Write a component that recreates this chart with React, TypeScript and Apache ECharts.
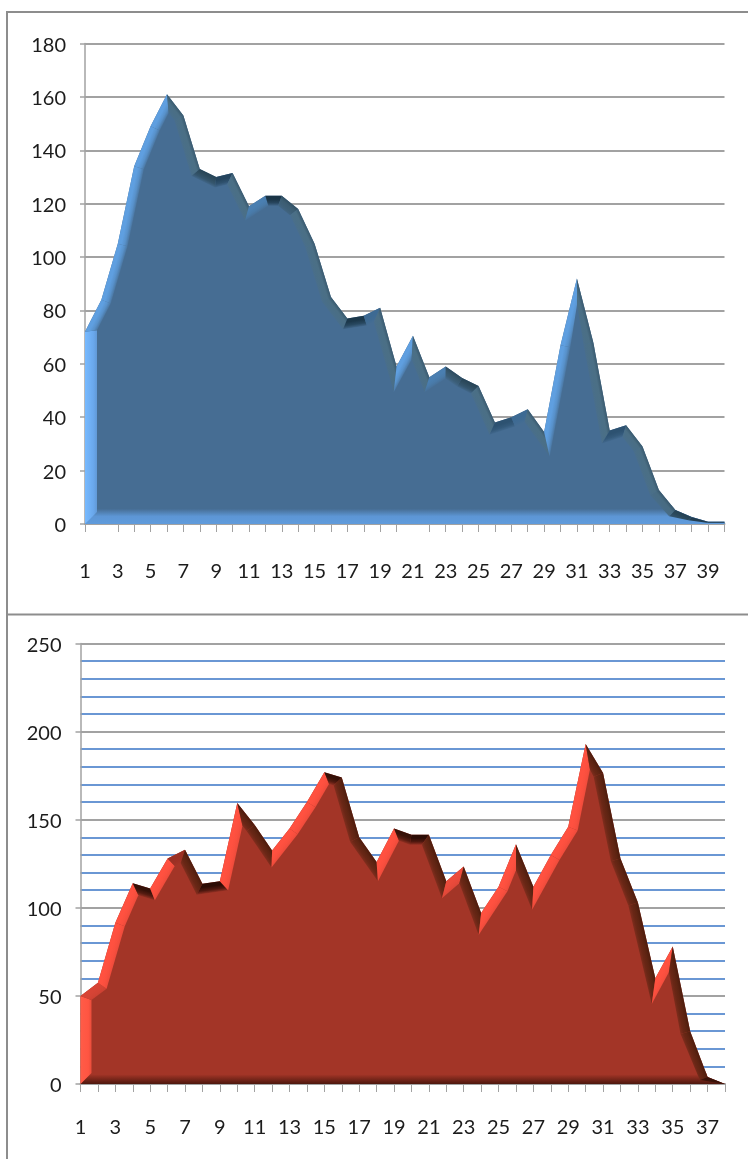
import React, { useEffect, useRef } from "react";
import * as echarts from "echarts";

const blueValues = [72, 84, 105, 134, 149, 161, 153, 133, 130, 131.5, 119, 123, 123, 118, 105, 85, 77, 78, 81, 59, 70.5, 55, 59, 54.7, 51.7, 38, 40, 43, 34.5, 67, 92, 68, 35, 37, 29, 12.7, 5.2, 2.6, 0.8, 0.8];
const redValues = [50, 57.5, 91.5, 114, 111, 128, 133, 113.6, 115, 159.5, 147, 132.5, 145, 160, 177, 174, 140, 126, 145, 141.5, 141.5, 115, 123.5, 97, 112, 136, 112, 130, 146, 193, 176.5, 128, 103, 60, 78, 30, 4, 0];
const blueCategories = blueValues.map((_, i) => String(i + 1));
const redCategories = redValues.map((_, i) => String(i + 1));
const blueMissingTicks = [1, 20];

type Pt = [number, number];
type Palette = {
  fill: string; flat: string; fall: string; rise: string; left: string; leftEdge: string; riseFade: number;
};
const bluePalette: Palette = { fill: "#466d93", flat: "#1a3446", fall: "#4b6f85", rise: "#5f9fe0", left: "#6aa8ec", leftEdge: "#78baff", riseFade: 0.8 };
const redPalette: Palette = { fill: "#a33527", flat: "#2c0c05", fall: "#5e2412", rise: "#ff5140", left: "#ff5542", leftEdge: "#ff5c48", riseFade: 0.2 };

function hex(c: string): number[] {
  return [1, 3, 5].map((i) => parseInt(c.slice(i, i + 2), 16));
}
function mix(a: string, b: string, t: number): string {
  const A = hex(a), B = hex(b), k = Math.max(0, Math.min(1, t));
  return "#" + A.map((v, i) => Math.round(v + (B[i] - v) * k).toString(16).padStart(2, "0")).join("");
}
function innerLine(pts: Pt[], d: number, leftW: number, base: number): Pt[] {
  const normal = (a: Pt, b: Pt): Pt => {
    const dx = b[0] - a[0], dy = b[1] - a[1], l = Math.hypot(dx, dy) || 1;
    return [-dy / l, dx / l];
  };
  return pts.map((p, i) => {
    let x: number, y: number;
    if (i === 0) {
      const n = normal(pts[0], pts[1]);
      const s = (pts[1][1] - pts[0][1]) / (pts[1][0] - pts[0][0]);
      x = p[0] + leftW;
      y = p[1] + n[1] * d + (x - (p[0] + n[0] * d)) * s;
    } else if (i === pts.length - 1) {
      const n = normal(pts[i - 1], p);
      x = p[0];
      y = p[1] + n[1] * d;
    } else {
      const a = normal(pts[i - 1], p), b = normal(p, pts[i + 1]);
      const k = 1 + a[0] * b[0] + a[1] * b[1];
      let ox = (d * (a[0] + b[0])) / (k || 1), oy = (d * (a[1] + b[1])) / (k || 1);
      const len = Math.hypot(ox, oy), lim = d * 2.6;
      if (len > lim) { ox *= lim / len; oy *= lim / len; }
      x = p[0] + ox; y = p[1] + oy;
    }
    const above = base - p[1];
    if (above < 36) y = Math.min(y, p[1] + above * 0.45);
    return [x, Math.min(y, base)] as Pt;
  });
}
function bandPolygon(pts: Pt[], base: number, h: number, leftW: number): Pt[] {
  const top = base - h;
  const out: Pt[] = [[pts[0][0], base], [pts[0][0] + leftW, top]];
  let last = false;
  for (let i = 1; i < pts.length; i++) {
    const p = pts[i], q = pts[i - 1];
    if (p[1] >= top && q[1] < top) {
      const t = (top - q[1]) / (p[1] - q[1]);
      out.push([q[0] + (p[0] - q[0]) * t, top]);
      last = true;
    }
    if (last || p[1] >= top) { out.push(p); last = true; }
  }
  out.push([pts[pts.length - 1][0], base]);
  return out;
}
const G = (x1: number, y1: number, x2: number, y2: number, stops: [number, string][]) =>
  new (echarts.graphic as any).LinearGradient(x1, y1, x2, y2, stops.map(([offset, color]) => ({ offset, color })), true);

function bevelSeries(values: number[], pal: Palette, axisIndex: number, d: number, leftW: number, bandH: number, bandFade: [number, number], bandBottom: string) {
  return {
    type: "custom",
    z: 4,
    xAxisIndex: axisIndex,
    yAxisIndex: axisIndex,
    encode: { x: 0, y: 1 },
    clip: false,
    silent: true,
    data: values.map((v, i) => [i, v]),
    renderItem: (params: any, api: any) => {
      const i = params.dataIndex;
      const pts: Pt[] = values.map((v, k) => api.coord([k, v]));
      const base: number = api.coord([0, 0])[1];
      const inner = innerLine(pts, d, leftW, base);
      const children: any[] = [];
      if (i === 0) {
        const top = base - bandH;
        children.push({
          type: "polygon",
          shape: { points: bandPolygon(pts, base, bandH, leftW) },
          style: { fill: G(0, top, 0, base, [[0, pal.fill], [bandFade[0], pal.fill], [bandFade[1], mix(pal.fill, bandBottom, 0.9)], [1, bandBottom]]) },
        });
        children.push({
          type: "polygon",
          shape: { points: [pts[0], inner[0], [inner[0][0], base - leftW], [pts[0][0], base]] },
          style: { fill: G(pts[0][0], 0, inner[0][0], 0, [[0, pal.leftEdge], [0.7, pal.left], [1, mix(pal.left, pal.fill, 0.25)]]) },
        });
      }
      if (i < values.length - 1) {
        const a = pts[i], b = pts[i + 1], ia = inner[i], ib = inner[i + 1];
        const dx = b[0] - a[0], dy = b[1] - a[1];
        const ang = (Math.atan2(-dy, dx) * 180) / Math.PI;
        const rising = ang > 0;
        const col = rising
          ? mix(pal.flat, pal.rise, (ang - 8) / 36)
          : mix(pal.flat, pal.fall, (-ang - 8) / 45);
        const l = Math.hypot(dx, dy) || 1;
        const nx = -dy / l, ny = dx / l;
        const mx = (a[0] + b[0]) / 2, my = (a[1] + b[1]) / 2;
        const fade = Math.abs(ang) < 35 ? 0.85 : rising ? pal.riseFade : 0.5;
        children.push({
          type: "polygon",
          shape: { points: [a, b, ib, ia] },
          style: {
            fill: G(mx, my, mx + nx * d, my + ny * d, [
              [0, rising ? col : mix(col, pal.flat, 0.35)],
              [0.35, col],
              [0.7, mix(col, pal.fill, fade * 0.35)],
              [1, mix(col, pal.fill, fade)],
            ]),
          },
        });
      }
      return { type: "group", children };
    },
  };
}

const GRAY = "#a2a2a2";
const FRAME = "#8d8d8d";
const FONT = "Lato";

function App() {
  const ref = useRef<HTMLDivElement>(null);
  useEffect(() => {
    document.body.style.margin = "0";
    document.body.style.overflow = "hidden";
    const chart = echarts.init(ref.current!, undefined, { renderer: "svg" });
    const xAxisCommon = {
      type: "category",
      boundaryGap: false,
      axisLine: { show: true, lineStyle: { color: GRAY, width: 2 } },
      axisLabel: { interval: 1, color: "#1c1c1c", fontFamily: FONT, fontSize: 20 },
    };
    const yAxisCommon = {
      type: "value",
      min: 0,
      axisLine: { show: true, lineStyle: { color: GRAY, width: 1.5 } },
      axisTick: { show: true, length: 5, lineStyle: { color: GRAY, width: 1.5 } },
      axisLabel: { color: "#1c1c1c", fontFamily: FONT, fontSize: 20, margin: 19 },
      splitLine: { show: true, lineStyle: { color: GRAY, width: 2 } },
    };
    chart.setOption({
      animation: false,
      backgroundColor: "#fff",
      grid: [
        { left: 85, top: 43.5, width: 639.5, height: 480.5 },
        { left: 80.5, top: 643.5, width: 644.5, height: 440.5 },
      ],
      xAxis: [
        {
          ...xAxisCommon,
          gridIndex: 0,
          data: blueCategories,
          axisTick: { show: true, length: 8, lineStyle: { color: GRAY }, interval: (idx: number) => !blueMissingTicks.includes(idx) },
          axisLabel: { ...xAxisCommon.axisLabel, margin: 36 },
        },
        {
          ...xAxisCommon,
          gridIndex: 1,
          data: redCategories,
          axisTick: { show: true, length: 8, lineStyle: { color: GRAY }, interval: 0 },
          axisLabel: { ...xAxisCommon.axisLabel, margin: 32 },
        },
      ],
      yAxis: [
        { ...yAxisCommon, gridIndex: 0, max: 180, interval: 20 },
        {
          ...yAxisCommon,
          gridIndex: 1,
          max: 250,
          interval: 50,
          minorTick: { show: false, splitNumber: 5 },
          minorSplitLine: { show: true, lineStyle: { color: "#6a97d4", width: 2 } },
        },
      ],
      series: [
        { type: "line", xAxisIndex: 0, yAxisIndex: 0, data: blueValues, symbol: "none", lineStyle: { width: 0 }, areaStyle: { color: bluePalette.fill, opacity: 1 } },
        bevelSeries(blueValues, bluePalette, 0, 10, 12, 19, [0.2, 0.6], "#5f9bdc"),
        { type: "line", xAxisIndex: 1, yAxisIndex: 1, data: redValues, symbol: "none", lineStyle: { width: 0 }, areaStyle: { color: redPalette.fill, opacity: 1 } },
        bevelSeries(redValues, redPalette, 1, 10, 11, 12, [0.2, 0.95], "#4a160c"),
      ],
      graphic: [
        { type: "rect", shape: { x: 6, y: 11, width: 742, height: 2 }, style: { fill: FRAME } },
        { type: "rect", shape: { x: 6, y: 11, width: 2, height: 1148 }, style: { fill: FRAME } },
        { type: "rect", shape: { x: 6, y: 613.5, width: 742, height: 2 }, style: { fill: FRAME } },
      ],
    });
    return () => chart.dispose();
  }, []);
  return <div ref={ref} style={{ position: "absolute", left: 0, top: 0, width: 748, height: 1159, filter: "blur(0.5px)" }} />;
}

export default App;
